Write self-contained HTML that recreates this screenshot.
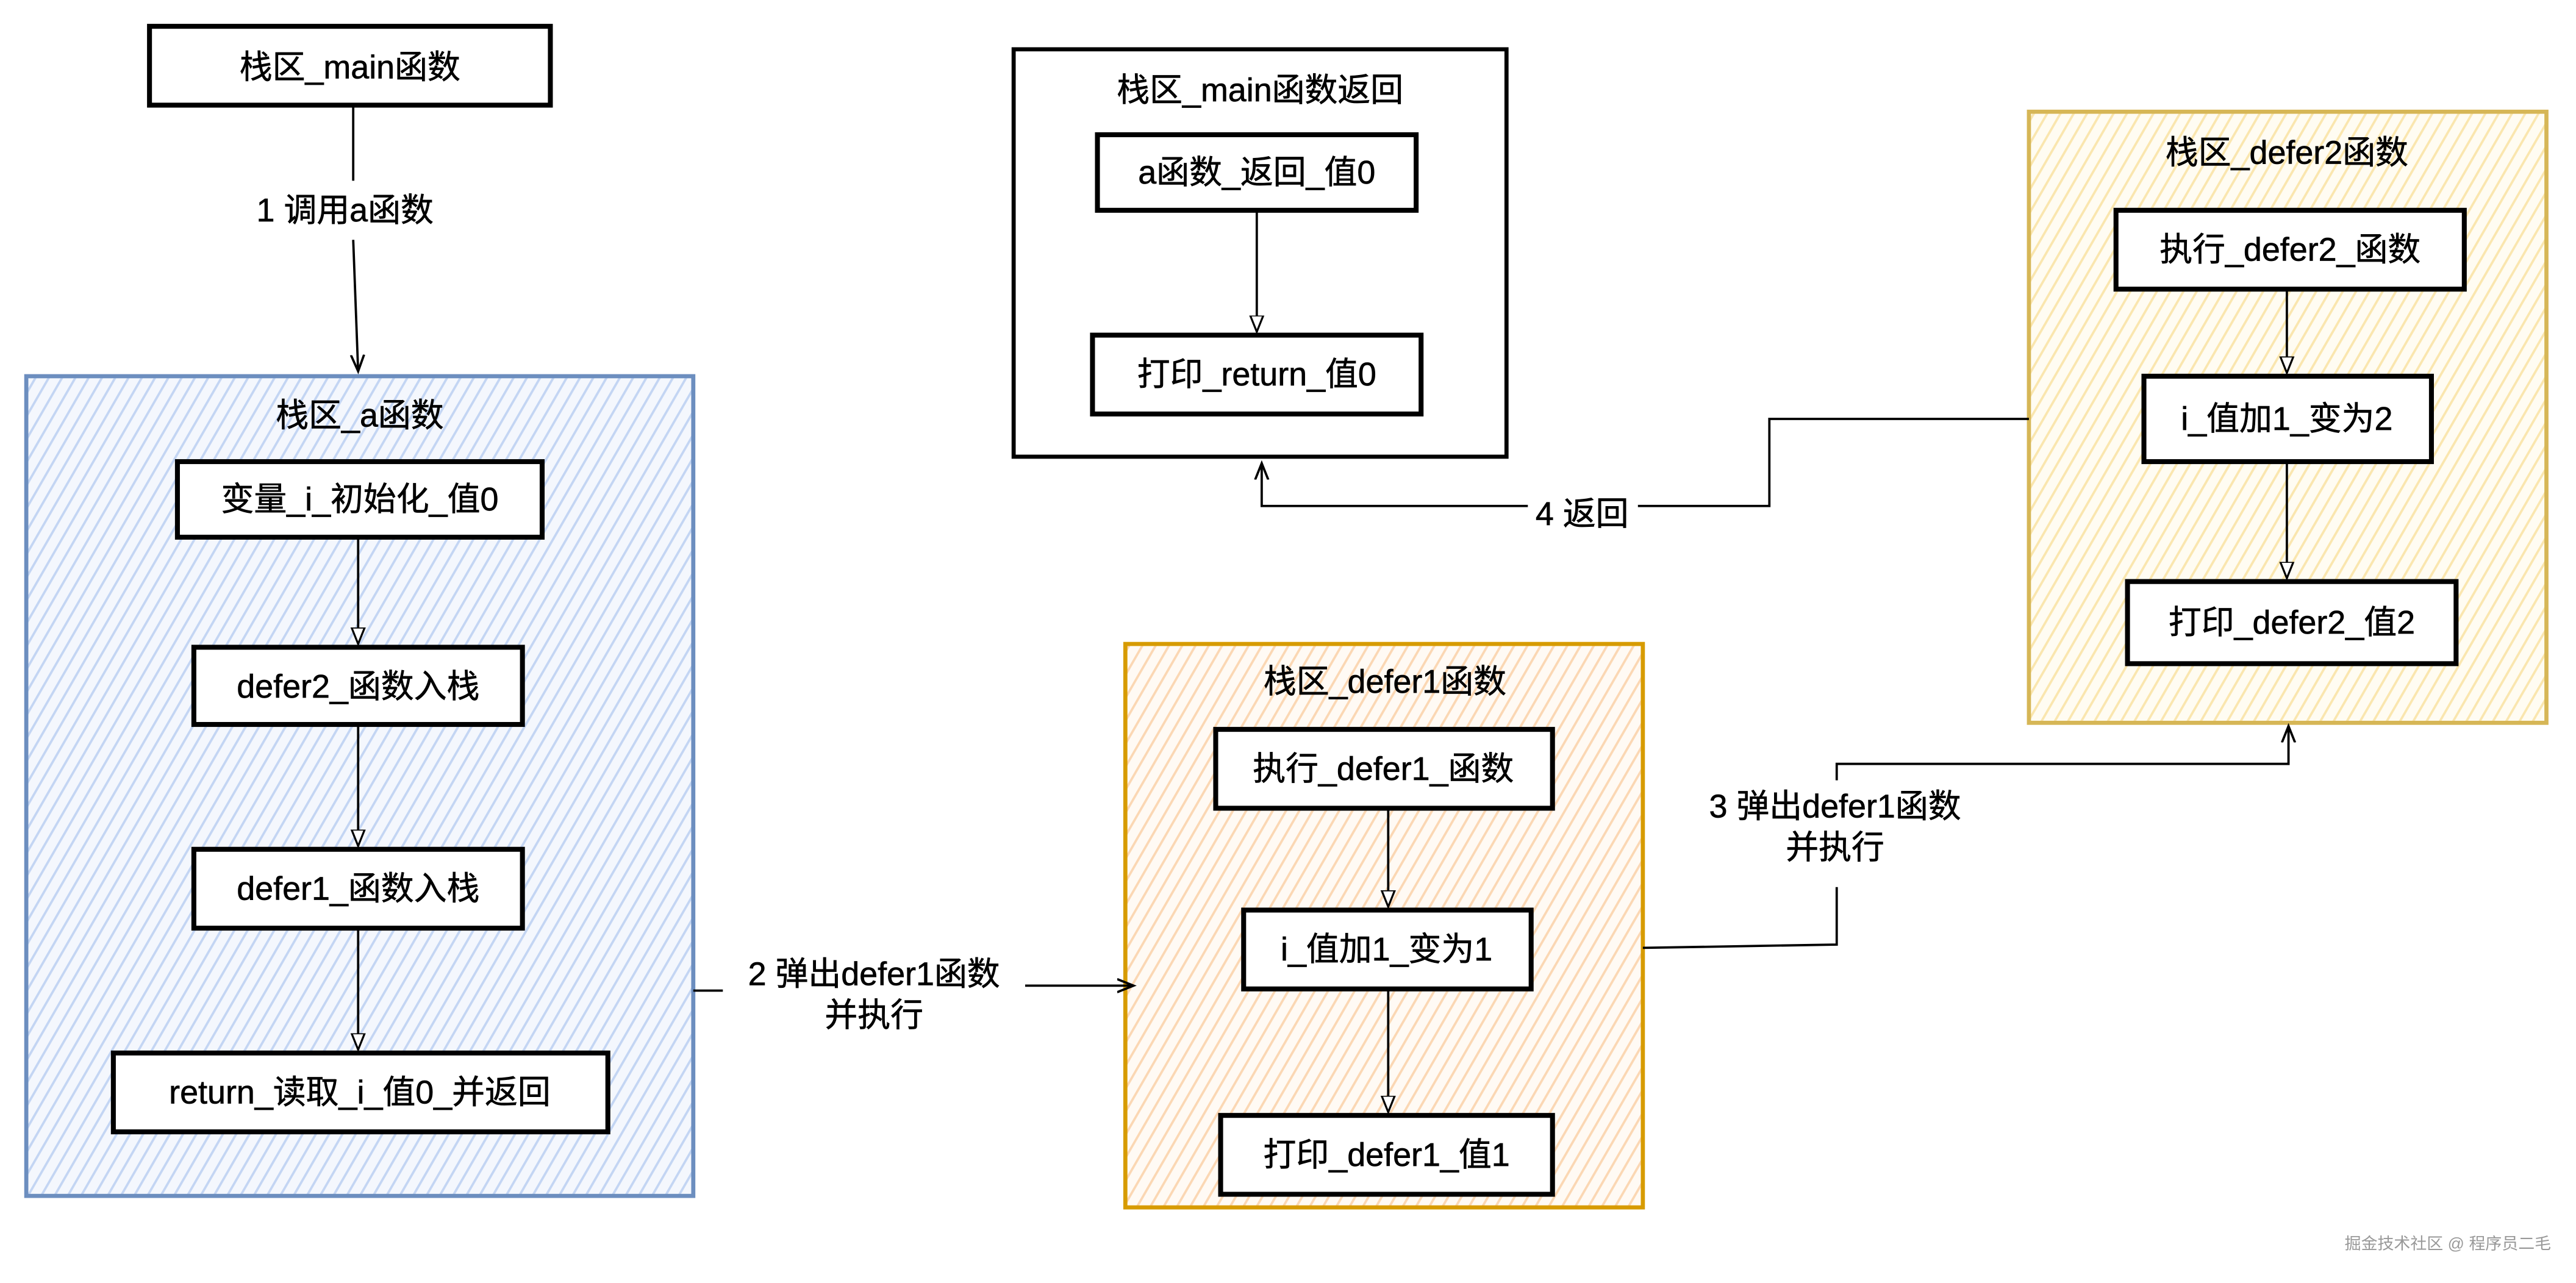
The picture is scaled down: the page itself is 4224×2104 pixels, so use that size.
<!DOCTYPE html>
<html><head><meta charset="utf-8"><style>
html,body{margin:0;padding:0;background:#fff}
svg{display:block}
text{font-family:"Liberation Sans","Noto Sans CJK SC",sans-serif;font-size:20px;fill:#000;text-anchor:middle;dominant-baseline:central;stroke:#000;stroke-width:0.25}
</style></head><body>
<svg width="4224" height="2104" viewBox="0 0 1568 781" xmlns="http://www.w3.org/2000/svg">
<defs>
<pattern id="hb" width="7" height="7" patternUnits="userSpaceOnUse" patternTransform="rotate(30)"><rect width="7" height="7" fill="#f4f7fd"/><line x1="0" y1="0" x2="0" y2="7" stroke="#c3d5f3" stroke-width="2.8"/></pattern>
<pattern id="ho" width="7" height="7" patternUnits="userSpaceOnUse" patternTransform="rotate(30)"><rect width="7" height="7" fill="#fffaf4"/><line x1="0" y1="0" x2="0" y2="7" stroke="#fbd7b3" stroke-width="2.8"/></pattern>
<pattern id="hy" width="7" height="7" patternUnits="userSpaceOnUse" patternTransform="rotate(30)"><rect width="7" height="7" fill="#fffcf2"/><line x1="0" y1="0" x2="0" y2="7" stroke="#fae6ae" stroke-width="2.8"/></pattern>
<marker id="ah" markerWidth="12" markerHeight="12" refX="10" refY="5" orient="auto" markerUnits="userSpaceOnUse"><path d="M0,1 L10,5 L0,9 Z" fill="#fff" stroke="#000" stroke-width="1.2"/></marker>
<marker id="ao" markerWidth="12" markerHeight="12" refX="10" refY="5" orient="auto" markerUnits="userSpaceOnUse"><path d="M0,1 L10,5 L0,9" fill="none" stroke="#000" stroke-width="1.4"/></marker>
</defs>
<g stroke="#000" stroke-width="1.4" fill="none">
<rect x="16" y="229" width="406" height="499" fill="url(#hb)" stroke="#6c8ebf" stroke-width="2.5"/>
<rect x="617" y="30" width="300" height="248" fill="#fff" stroke-width="2.5"/>
<rect x="685" y="392" width="315" height="343" fill="url(#ho)" stroke="#d79b00" stroke-width="2.5"/>
<rect x="1235" y="68" width="315" height="372" fill="url(#hy)" stroke="#d6b656" stroke-width="2.5"/>
<g fill="#fff" stroke-width="3">
<rect x="91" y="16" width="244" height="48"/>
<rect x="108" y="281" width="222" height="46"/>
<rect x="118" y="394" width="200" height="47"/>
<rect x="118" y="517" width="200" height="48"/>
<rect x="69" y="641" width="301" height="48"/>
<rect x="668" y="82" width="194" height="46"/>
<rect x="665" y="204" width="200" height="48"/>
<rect x="740" y="444" width="205" height="48"/>
<rect x="757" y="554" width="175" height="48"/>
<rect x="743" y="679" width="202" height="48"/>
<rect x="1288" y="128" width="212" height="48"/>
<rect x="1305" y="229" width="175" height="52"/>
<rect x="1295" y="354" width="200" height="50"/>
</g>
<path d="M218,328 L218,392" marker-end="url(#ah)"/>
<path d="M218,441 L218,515" marker-end="url(#ah)"/>
<path d="M218,565 L218,639" marker-end="url(#ah)"/>
<path d="M765,128 L765,202" marker-end="url(#ah)"/>
<path d="M845,492 L845,552" marker-end="url(#ah)"/>
<path d="M845,602 L845,677" marker-end="url(#ah)"/>
<path d="M1392,176 L1392,227" marker-end="url(#ah)"/>
<path d="M1392,281 L1392,352" marker-end="url(#ah)"/>
<path d="M215,64 L215,110 M215,146 L218,226" marker-end="url(#ao)"/>
<path d="M422,603 L440,603 M624,600 L690,600" marker-end="url(#ao)"/>
<path d="M1000,577 L1118,575 L1118,540 M1118,475 L1118,465 L1393,465 L1393,442" marker-end="url(#ao)"/>
<path d="M1235,255 L1077,255 L1077,308 L997,308 M930,308 L768,308 L768,282" marker-end="url(#ao)"/>
</g>
<text x="213" y="41">栈区_main函数</text>
<text x="210" y="128">1 调用a函数</text>
<text x="219" y="253">栈区_a函数</text>
<text x="219" y="304">变量_i_初始化_值0</text>
<text x="218" y="418">defer2_函数入栈</text>
<text x="218" y="541">defer1_函数入栈</text>
<text x="219" y="665">return_读取_i_值0_并返回</text>
<text x="767" y="55">栈区_main函数返回</text>
<text x="765" y="105">a函数_返回_值0</text>
<text x="765" y="228">打印_return_值0</text>
<text x="843" y="415">栈区_defer1函数</text>
<text x="842" y="468">执行_defer1_函数</text>
<text x="844" y="578">i_值加1_变为1</text>
<text x="844" y="703">打印_defer1_值1</text>
<text x="1392" y="93">栈区_defer2函数</text>
<text x="1394" y="152">执行_defer2_函数</text>
<text x="1392" y="255">i_值加1_变为2</text>
<text x="1395" y="379">打印_defer2_值2</text>
<text x="532" y="593">2 弹出defer1函数</text>
<text x="532" y="618">并执行</text>
<text x="1117" y="491">3 弹出defer1函数</text>
<text x="1117" y="516">并执行</text>
<text x="963" y="313">4 返回</text>
<text x="1490" y="757" style="font-size:10px;fill:#999;stroke:none">掘金技术社区 @ 程序员二毛</text>
</svg>
</body></html>
